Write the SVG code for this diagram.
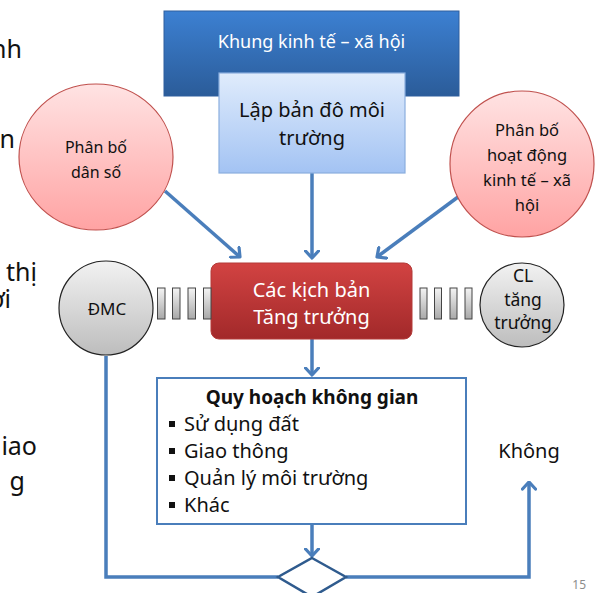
<svg xmlns="http://www.w3.org/2000/svg" width="596" height="593" viewBox="0 0 596 593">
  <style>
    text { font-family: "Noto Sans", "Open Sans", sans-serif; }
    .cut { font-size: 25px; fill: #111; }
    .dark { fill: #111; }
    .white { fill: #fff; }
    .line { fill: none; stroke: #4a7ebb; stroke-width: 3.5; }
    .bar { fill: url(#barGrad); stroke: #444; stroke-width: 1; }
  </style>
  <defs>
    <linearGradient id="blueTop" x1="0" y1="0" x2="0" y2="1">
      <stop offset="0" stop-color="#3c80d2"/>
      <stop offset="1" stop-color="#2b5c99"/>
    </linearGradient>
    <linearGradient id="lightBlue" x1="0" y1="0" x2="0" y2="1">
      <stop offset="0" stop-color="#e0ecfc"/>
      <stop offset="1" stop-color="#a3c3f3"/>
    </linearGradient>
    <linearGradient id="pink" x1="0" y1="0" x2="0" y2="1">
      <stop offset="0" stop-color="#ffe3e3"/>
      <stop offset="1" stop-color="#ffa3a3"/>
    </linearGradient>
    <linearGradient id="red" x1="0" y1="0" x2="0" y2="1">
      <stop offset="0" stop-color="#d24342"/>
      <stop offset="1" stop-color="#a2292a"/>
    </linearGradient>
    <linearGradient id="gray" x1="0" y1="0" x2="0" y2="1">
      <stop offset="0" stop-color="#f2f2f2"/>
      <stop offset="1" stop-color="#bdbdbd"/>
    </linearGradient>
    <linearGradient id="barGrad" x1="0" y1="0" x2="0" y2="1">
      <stop offset="0" stop-color="#f4f4f4"/>
      <stop offset="1" stop-color="#a8a8a8"/>
    </linearGradient>
    <marker id="chev" viewBox="0 0 10 16" refX="8.5" refY="8" markerWidth="10" markerHeight="16" markerUnits="userSpaceOnUse" orient="auto">
      <path d="M1.5,1.5 L8.5,8 L1.5,14.5" fill="none" stroke="#4a7ebb" stroke-width="3.2" stroke-linecap="round" stroke-linejoin="round"/>
    </marker>
  </defs>

  <rect width="596" height="593" fill="#fff"/>

  <!-- slide body text running behind the diagram, clipped at the left edge -->
  <g id="slide-text">
    <text class="cut" x="22" y="58" text-anchor="end">nh</text>
    <text class="cut" x="15" y="148" text-anchor="end">n</text>
    <text class="cut" x="37" y="281" text-anchor="end">thị</text>
    <text class="cut" x="11" y="308" text-anchor="end">ơi</text>
    <text class="cut" x="37" y="455" text-anchor="end">iao</text>
    <text class="cut" x="25" y="490" text-anchor="end">g</text>
  </g>

  <!-- connectors -->
  <g id="connectors">
    <path class="line" d="M106,356 V577 H278"/>
    <path class="line" d="M346,577 H529 V482" marker-end="url(#chev)"/>
    <path class="line" d="M165,191 L240,257" marker-end="url(#chev)"/>
    <path class="line" d="M312,173 V258" marker-end="url(#chev)"/>
    <path class="line" d="M458,197 L377,257" marker-end="url(#chev)"/>
    <path class="line" d="M312,339 V375" marker-end="url(#chev)"/>
    <path class="line" d="M312,525 V556" marker-end="url(#chev)"/>
  </g>

  <g id="khung">
    <rect x="164" y="11" width="295" height="85" fill="url(#blueTop)" stroke="#2f5f9e" stroke-width="1"/>
    <text class="white" x="311.5" y="48" text-anchor="middle" font-size="18">Khung kinh tế – xã hội</text>
  </g>

  <g id="lap-ban-do">
    <rect x="219" y="73" width="186" height="100" fill="url(#lightBlue)" stroke="#8aaede" stroke-width="1.2"/>
    <text class="dark" x="312" y="117" text-anchor="middle" font-size="20">Lập bản đô môi</text>
    <text class="dark" x="312" y="145" text-anchor="middle" font-size="20">trường</text>
  </g>

  <g id="phan-bo-dan-so">
    <ellipse cx="96" cy="157" rx="77" ry="73" fill="url(#pink)" stroke="#c0504d" stroke-width="1.2"/>
    <text class="dark" x="96" y="153" text-anchor="middle" font-size="16">Phân bố</text>
    <text class="dark" x="96" y="178" text-anchor="middle" font-size="16">dân số</text>
  </g>

  <g id="phan-bo-hoat-dong">
    <ellipse cx="522" cy="164" rx="72" ry="73" fill="url(#pink)" stroke="#c0504d" stroke-width="1.2"/>
    <text class="dark" x="527" y="136" text-anchor="middle" font-size="16.5">Phân bố</text>
    <text class="dark" x="527" y="161" text-anchor="middle" font-size="16.5">hoạt động</text>
    <text class="dark" x="527" y="186" text-anchor="middle" font-size="16.5">kinh tế – xã</text>
    <text class="dark" x="527" y="211" text-anchor="middle" font-size="16.5">hội</text>
  </g>

  <g id="kich-ban">
    <rect x="211" y="263" width="201" height="76" rx="8" fill="url(#red)" stroke="#b33a38" stroke-width="1"/>
    <text class="white" x="311.5" y="297" text-anchor="middle" font-size="20">Các kịch bản</text>
    <text class="white" x="311.5" y="324" text-anchor="middle" font-size="20">Tăng trưởng</text>
  </g>

  <g id="dmc">
    <circle cx="106" cy="308" r="47" fill="url(#gray)" stroke="#222" stroke-width="1.2"/>
    <text class="dark" x="107" y="315" text-anchor="middle" font-size="17">ĐMC</text>
  </g>

  <g id="bars-left">
    <rect class="bar" x="157.5" y="288" width="7.5" height="31"/>
    <rect class="bar" x="172.5" y="288" width="7.5" height="31"/>
    <rect class="bar" x="188" y="288" width="7.5" height="31"/>
    <rect class="bar" x="203.5" y="288" width="7.5" height="31"/>
  </g>

  <g id="bars-right">
    <rect class="bar" x="420" y="288" width="7" height="31"/>
    <rect class="bar" x="434.5" y="288" width="7" height="31"/>
    <rect class="bar" x="450" y="288" width="7" height="31"/>
    <rect class="bar" x="465" y="288" width="7" height="31"/>
  </g>

  <g id="cl-tang-truong">
    <circle cx="522" cy="305" r="42" fill="url(#gray)" stroke="#222" stroke-width="1.2"/>
    <text class="dark" x="523" y="282" text-anchor="middle" font-size="17.5">CL</text>
    <text class="dark" x="523" y="306" text-anchor="middle" font-size="17.5">tăng</text>
    <text class="dark" x="523" y="329" text-anchor="middle" font-size="17.5">trưởng</text>
  </g>

  <g id="quy-hoach">
    <rect x="157" y="378" width="309" height="146" fill="#fff" stroke="#4a7ebb" stroke-width="2"/>
    <text class="dark" x="312" y="404" text-anchor="middle" font-size="19" font-weight="bold">Quy hoạch không gian</text>
    <g class="dark">
      <rect x="169" y="421" width="6" height="6"/>
      <rect x="169" y="448" width="6" height="6"/>
      <rect x="169" y="475" width="6" height="6"/>
      <rect x="169" y="502" width="6" height="6"/>
    </g>
    <text class="dark" x="184" y="431" font-size="20">Sử dụng đất</text>
    <text class="dark" x="184" y="458" font-size="20">Giao thông</text>
    <text class="dark" x="184" y="485" font-size="20">Quản lý môi trường</text>
    <text class="dark" x="184" y="512" font-size="20">Khác</text>
  </g>

  <g id="quyet-dinh">
    <polygon points="312,558 346,577 312,597 278,577" fill="#fff" stroke="#2f5b8e" stroke-width="2.5"/>
  </g>

  <g id="khong">
    <text class="dark" x="529" y="458" text-anchor="middle" font-size="20" font-family="'Liberation Sans', Arial, sans-serif">Không</text>
  </g>

  <text x="586" y="589" text-anchor="end" font-size="12" fill="#8c8c8c" font-family="'Liberation Sans', Arial, sans-serif">15</text>
</svg>
